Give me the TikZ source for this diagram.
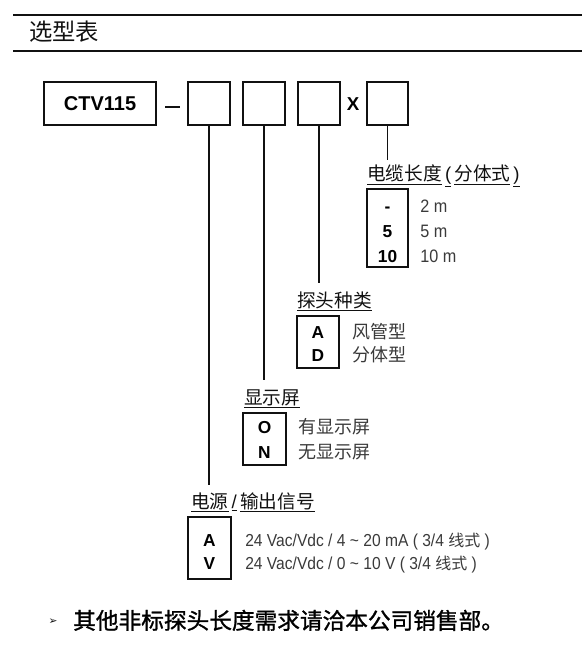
\documentclass[tikz,border=0pt]{standalone}
\usepackage{fontspec}
\setmainfont{Liberation Sans}
\newfontfamily\cjk{Noto Sans CJK SC}
\newfontfamily\cjkb[FakeBold=1.2]{Noto Sans CJK SC}
\newfontfamily\descfont[FakeStretch=0.9]{Liberation Sans}
\newfontfamily\symfont{DejaVu Sans}
\definecolor{inkc}{HTML}{111111}
\definecolor{descc}{HTML}{3A3A3A}
\begin{document}
\begin{tikzpicture}[x=0.75pt,y=-0.75pt,
  rulex/.style={line width=0.8pt,draw=inkc},
  slot/.style={draw=inkc,line width=0.8pt,minimum width=31.5pt,minimum height=32.25pt,inner sep=0pt},
  codebox/.style={draw=inkc,line width=0.8pt,inner sep=0pt},
  wire/.style={line width=0.8pt,draw=inkc},
  lbl/.style={anchor=base west,inner sep=0pt,text=inkc,font=\cjk\fontsize{14pt}{16pt}\selectfont},
  code/.style={anchor=base,inner sep=0pt,text=black,font=\bfseries\fontsize{13pt}{15pt}\selectfont},
  desc/.style={anchor=base west,inner sep=0pt,text=descc,font=\descfont\fontsize{13.5pt}{15pt}\selectfont},
  cdesc/.style={anchor=base west,inner sep=0pt,text=descc,font=\cjk\fontsize{13.5pt}{15pt}\selectfont}
]
\useasboundingbox (0,0) rectangle (582,645);
% header
\coordinate (h1a) at (13,15); \coordinate (h1b) at (582,15);
\coordinate (h2a) at (13,51); \coordinate (h2b) at (582,51);
\draw[rulex] (h1a) -- (h1b);
\draw[rulex] (h2a) -- (h2b);
\node[anchor=base west,inner sep=0pt,text=inkc,font=\cjk\fontsize{17.5pt}{20pt}\selectfont] (title) at (29,41) {选型表};
% model code row
\node[codebox,minimum width=84pt,minimum height=32.25pt,font=\bfseries\fontsize{15pt}{17pt}\selectfont] (ctv) at (100,103.5) {CTV115};
\coordinate (da) at (165,107); \coordinate (db) at (180,107);
\draw[wire] (da) -- (db);
\node[slot] (s1) at (209,103.5) {};
\node[slot] (s2) at (264,103.5) {};
\node[slot] (s3) at (319,103.5) {};
\node[inner sep=0pt,font=\bfseries\fontsize{14pt}{16pt}\selectfont] (xx) at (353,104) {X};
\node[slot,minimum width=30.75pt] (s4) at (387.5,103.5) {};
% connector ends
\coordinate (e1) at (209,485);
\coordinate (e2) at (264,380);
\coordinate (e3) at (319,283);
\coordinate (e4) at (387.5,160);
\draw[wire] (s1.south) -- (e1);
\draw[wire] (s2.south) -- (e2);
\draw[wire] (s3.south) -- (e3);
\draw[wire] (s4.south) -- (e4);
% cable length
\node[lbl] (lcable) at (367,181) {\underline{电缆长度}\,\underline{\fontspec{Liberation Sans}(}\,\underline{分体式}\,\underline{\fontspec{Liberation Sans})}};
\node[codebox,minimum width=30.75pt,minimum height=58.5pt] (bcable) at (387.5,228) {};
\node[code] (c1) at (387.5,213) {-};
\node[code] (c2) at (387.5,237.5) {5};
\node[code] (c3) at (387.5,262) {10};
\node[desc] (d1) at (420,213) {2 m};
\node[desc] (d2) at (420,237.5) {5 m};
\node[desc] (d3) at (420,262) {10 m};
% probe type
\node[lbl] (lprobe) at (297,307) {\underline{探头种类}};
\node[codebox,minimum width=31.5pt,minimum height=39pt] (bprobe) at (318,342) {};
\node[code] (pa) at (318,338) {A};
\node[code] (pd) at (318,361) {D};
\node[cdesc] (pad) at (352,338) {风管型};
\node[cdesc] (pdd) at (352,361) {分体型};
% display
\node[lbl] (ldisp) at (244,404) {\underline{显示屏}};
\node[codebox,minimum width=32.25pt,minimum height=39pt] (bdisp) at (264.5,439) {};
\node[code] (co) at (264.5,433) {O};
\node[code] (cn) at (264.5,458) {N};
\node[cdesc] (cod) at (298,433) {有显示屏};
\node[cdesc] (cnd) at (298,458) {无显示屏};
% power / output
\node[lbl] (lpower) at (191,508) {\underline{电源}\,\underline{\fontspec{Liberation Sans}/}\,\underline{输出信号}};
\node[codebox,minimum width=32.25pt,minimum height=46.5pt] (bpower) at (209.5,548) {};
\node[code] (va) at (209.5,546) {A};
\node[code] (vv) at (209.5,569) {V};
\node[desc,font=\descfont\fontsize{13pt}{15pt}\selectfont] (vad) at (245,546) {24 Vac/Vdc / 4 \textasciitilde\ 20 mA ( 3/4 {\cjk\fontsize{12pt}{13pt}\selectfont 线式} )};
\node[desc,font=\descfont\fontsize{13pt}{15pt}\selectfont] (vvd) at (245,569) {24 Vac/Vdc / 0 \textasciitilde\ 10 V ( 3/4 {\cjk\fontsize{12pt}{13pt}\selectfont 线式} )};
% note
\node[inner sep=0pt,text=inkc,font=\symfont\fontsize{8pt}{9pt}\selectfont] (bul) at (53,622) {➢};
\node[anchor=base west,inner sep=0pt,text=black,font=\cjkb\fontsize{17pt}{20pt}\selectfont] (note) at (73,629) {其他非标探头长度需求请洽本公司销售部。};
\end{tikzpicture}
\end{document}
